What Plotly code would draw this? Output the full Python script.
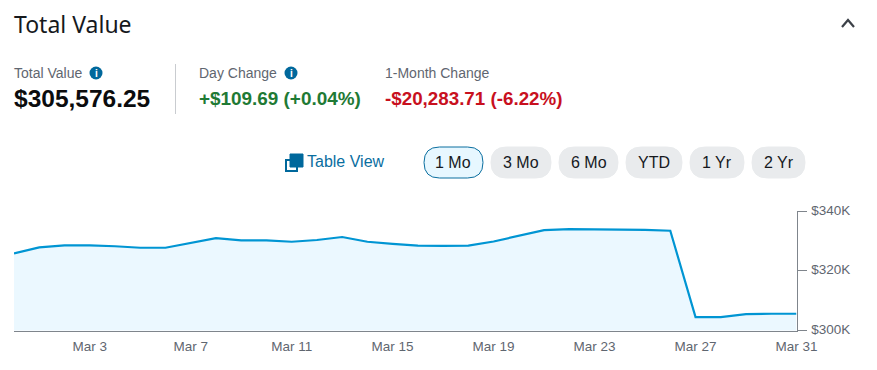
import plotly.graph_objects as go

dates = ["2025-02-28"] + [f"2025-03-{d:02d}" for d in range(1, 32)]
values = [325.8, 327.8, 328.5, 328.5, 328.2, 327.7, 327.7, 329.3, 330.9, 330.2, 330.2,
          329.7, 330.3, 331.3, 329.7, 329.0, 328.4, 328.3, 328.4, 329.8, 331.7, 333.6,
          333.9, 333.9, 333.9, 333.7, 333.4, 304.5, 304.5, 305.5, 305.6, 305.6]
x_tick_vals = ["2025-03-03", "2025-03-07", "2025-03-11", "2025-03-15", "2025-03-19",
               "2025-03-23", "2025-03-27", "2025-03-31"]
x_tick_text = ["Mar 3", "Mar 7", "Mar 11", "Mar 15", "Mar 19", "Mar 23", "Mar 27", "Mar 31"]
y_tick_vals = [300, 320, 340]
y_tick_text = ["$300K", "$320K", "$340K"]
range_buttons = ["1 Mo", "3 Mo", "6 Mo", "YTD", "1 Yr", "2 Yr"]

# the page body has an 8px margin, so the figure starts at (8, 8) in the window
OFF = 8
W, H = 869, 362
PX = lambda v: (v - OFF) / W
PY = lambda v: 1 - (v - OFF) / H
ARIAL = "Liberation Sans, Arial, sans-serif"
GRAY = "#5f6670"
AXIS = "#7f858c"
BLUE = "#00689c"

fig = go.Figure(go.Scatter(
    x=dates, y=values, mode="lines", fill="tozeroy", fillcolor="#ebf8ff",
    line=dict(color="#0095d3", width=2.2), hoverinfo="skip", showlegend=False))

anns, shapes = [], []

def text(x, y, s, size, color, font=ARIAL, anchor="left", bold=False):
    anns.append(dict(x=PX(x), y=PY(y), xref="paper", yref="paper", text=f"<b>{s}</b>" if bold else s,
                     showarrow=False, xanchor=anchor, yanchor="middle", borderpad=0, borderwidth=0,
                     font=dict(size=size, color=color, family=font)))

def pill(x0, x1, y0, y1, fill, line=None):
    r = (y1 - y0) / 2
    l, rr, t, b = PX(x0), PX(x1), PY(y0), PY(y1)
    rx, ry = r / W, r / H
    path = (f"M {l+rx} {t} L {rr-rx} {t} Q {rr} {t} {rr} {t-ry} Q {rr} {b} {rr-rx} {b} "
            f"L {l+rx} {b} Q {l} {b} {l} {b+ry} Q {l} {t} {l+rx} {t} Z")
    shapes.append(dict(type="path", path=path, xref="paper", yref="paper", fillcolor=fill,
                       line=dict(color=line or fill, width=1)))

def rect(x0, y0, x1, y1, fill, line=None, width=1):
    shapes.append(dict(type="rect", xref="paper", yref="paper", x0=PX(x0), x1=PX(x1), y0=PY(y0), y1=PY(y1),
                       fillcolor=fill, line=dict(color=line or fill, width=width)))

def info(cx, cy):
    shapes.append(dict(type="circle", xref="paper", yref="paper", x0=PX(cx-6.5), x1=PX(cx+6.5),
                       y0=PY(cy+6.5), y1=PY(cy-6.5), fillcolor=BLUE, line=dict(width=0)))
    text(cx, cy, "i", 10, "white", anchor="center", bold=True)

# header
text(14, 24, "Total Value", 23, "#16191d", font="Noto Sans, sans-serif")
shapes.append(dict(type="path", xref="paper", yref="paper",
                   path=f"M {PX(842)} {PY(27)} L {PX(848)} {PY(20)} L {PX(854)} {PY(27)}",
                   line=dict(color="#3c4148", width=2.2)))
# summary
text(14, 73, "Total Value", 14, GRAY)
info(96, 73)
text(14, 98, "$305,576.25", 24.5, "#0b0c0e", bold=True)
shapes.append(dict(type="line", xref="paper", yref="paper", x0=PX(175.5), x1=PX(175.5),
                   y0=PY(64), y1=PY(114), line=dict(color="#c9ccd0", width=1)))
text(199, 73, "Day Change", 14, GRAY)
info(291, 73)
text(199, 98, "+$109.69 (+0.04%)", 18.9, "#1f7a35", bold=True)
text(385, 73, "1-Month Change", 14, GRAY)
text(385, 98, "-$20,283.71 (-6.22%)", 18.8, "#c8101e", bold=True)
# table view
rect(286, 160, 297, 171, "white", BLUE, 2)
rect(290, 154, 303, 167, BLUE)
text(307, 161, "Table View", 16, "#0a6e9f")
# range buttons
pill_edges = [(424, 483), (491, 551), (559, 618), (626, 682), (690, 744), (752, 805)]
for i, (label, (a, b)) in enumerate(zip(range_buttons, pill_edges)):
    if i == 0:
        pill(a, b, 147, 178, "#e7f7ff", "#0a6e9f")
    else:
        pill(a, b, 147, 178, "#e9ebed")
    text((a + b) / 2, 162, label, 16, "#16191d", anchor="center")

fig.update_layout(
    width=W, height=H, autosize=False, paper_bgcolor="white", plot_bgcolor="white",
    margin=dict(l=0, r=0, t=0, b=0, autoexpand=False), annotations=anns, shapes=shapes,
    xaxis=dict(domain=[PX(14), PX(796.5)], range=["2025-02-28", "2025-03-31"], type="date",
               tickmode="array", tickvals=x_tick_vals, ticktext=x_tick_text, ticks="",
               ticklabelstandoff=3, automargin=False, showgrid=False, showline=True, linecolor=AXIS,
               linewidth=1, zeroline=False, tickfont=dict(family=ARIAL, size=13.5, color=GRAY)),
    yaxis=dict(domain=[PY(330.5), PY(211)], range=[300, 340], side="right", tickmode="array",
               tickvals=y_tick_vals, ticktext=y_tick_text, ticks="outside", ticklen=9, tickcolor=AXIS,
               ticklabelstandoff=2, ticklabelshift=-1,
               tickwidth=1, automargin=False, showgrid=False, showline=True, linecolor=AXIS, linewidth=1,
               zeroline=False, tickfont=dict(family=ARIAL, size=13.5, color=GRAY)),
)
fig.write_html("out.html", config=dict(displayModeBar=False))
